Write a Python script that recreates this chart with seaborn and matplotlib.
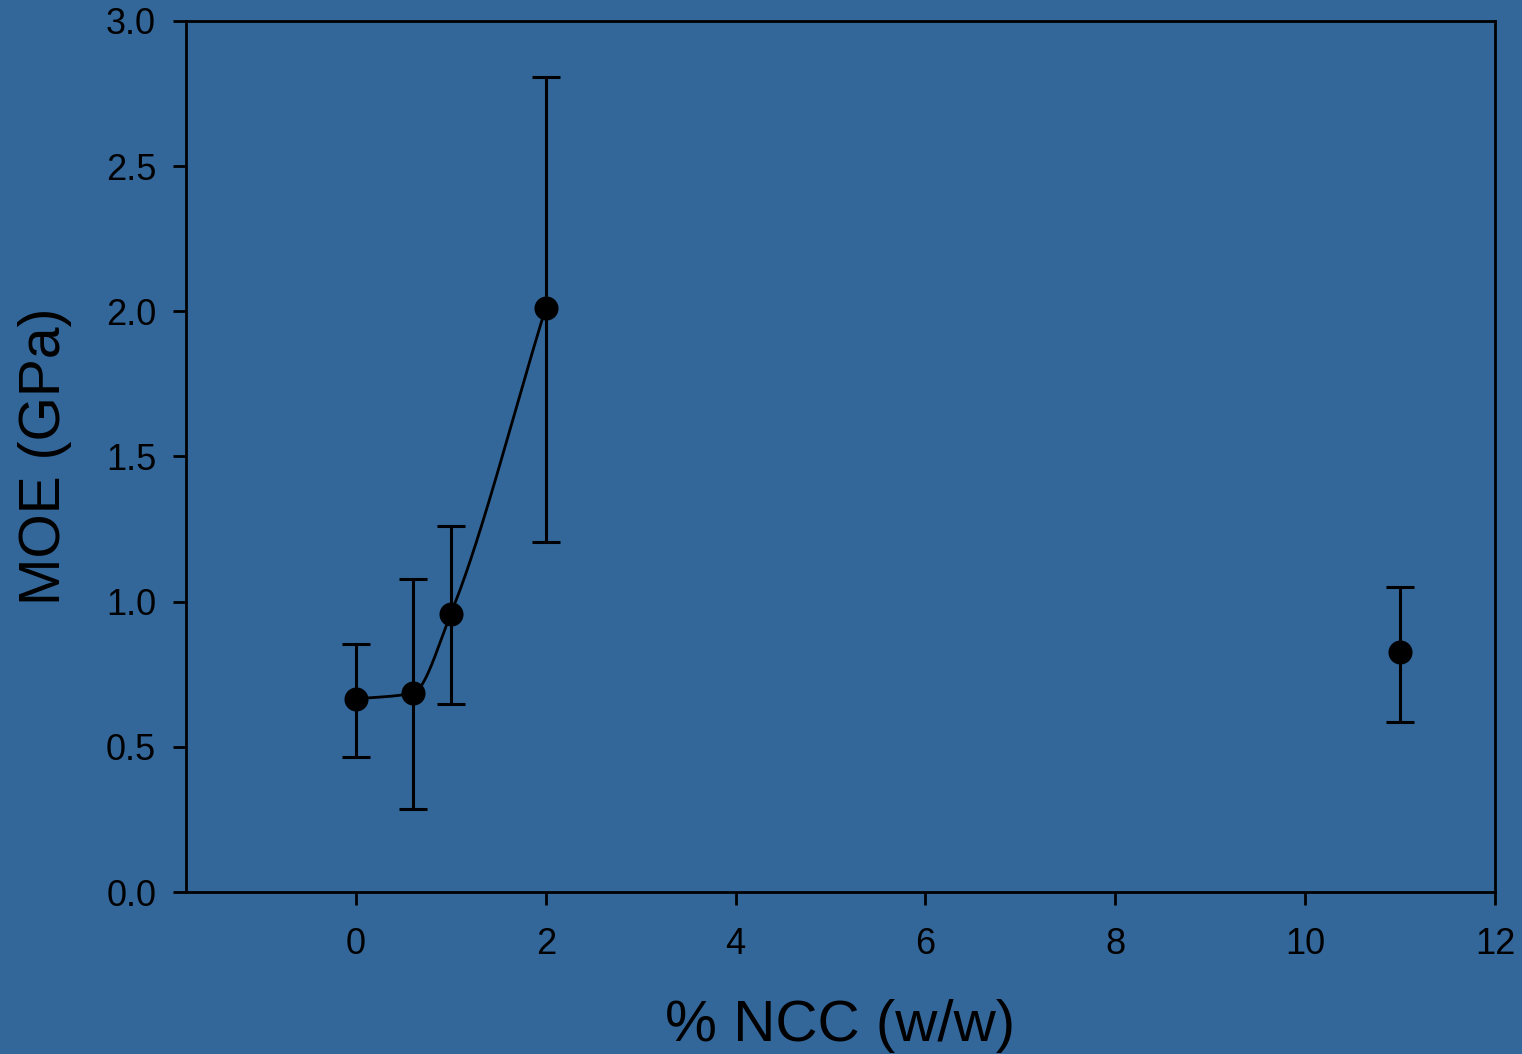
import numpy as np
import pandas as pd
import matplotlib
matplotlib.use("Agg")
import matplotlib.pyplot as plt
import seaborn as sns

# Data
ncc = [0.0, 0.6, 1.0, 2.0, 11.0]
moe = [0.665, 0.685, 0.958, 2.012, 0.827]
err_low = [0.465, 0.286, 0.648, 1.206, 0.586]
err_high = [0.854, 1.078, 1.261, 2.807, 1.051]
curve_n = 4  # smooth curve passes through the first four points

sns.set_theme(style="ticks")
plt.rcParams['font.family'] = ['Liberation Sans', 'DejaVu Sans']

BG = "#336699"
fig = plt.figure(figsize=(15.22, 10.54), dpi=100, facecolor=BG)
ax = fig.add_axes([0.1222, 0.1537, 0.8601, 0.8264])
ax.set_facecolor(BG)

df = pd.DataFrame({"x": ncc, "y": moe})


def pchip(x, y, xs):
    x = np.asarray(x, float); y = np.asarray(y, float)
    h = np.diff(x); d = np.diff(y) / h
    n = len(x); m = np.zeros(n)
    for k in range(1, n - 1):
        if d[k - 1] * d[k] > 0:
            w1 = 2 * h[k] + h[k - 1]; w2 = h[k] + 2 * h[k - 1]
            m[k] = (w1 + w2) / (w1 / d[k - 1] + w2 / d[k])
    m[0] = d[0]; m[-1] = d[-1]
    out = np.empty_like(xs)
    for i, xv in enumerate(xs):
        k = min(np.searchsorted(x, xv, side="right") - 1, n - 2)
        k = max(k, 0)
        t = (xv - x[k]) / h[k]
        h00 = 2 * t**3 - 3 * t**2 + 1; h10 = t**3 - 2 * t**2 + t
        h01 = -2 * t**3 + 3 * t**2; h11 = t**3 - t**2
        out[i] = h00 * y[k] + h10 * h[k] * m[k] + h01 * y[k + 1] + h11 * h[k] * m[k + 1]
    return out

xs = np.linspace(ncc[0], ncc[curve_n - 1], 300)
ys = pchip(ncc[:curve_n], moe[:curve_n], xs)
sns.lineplot(x=xs, y=ys, ax=ax, color="black", linewidth=2.0, sort=False)

yerr = np.vstack([np.array(moe) - np.array(err_low), np.array(err_high) - np.array(moe)])
ax.errorbar(ncc, moe, yerr=yerr, fmt="none", ecolor="black", elinewidth=2.2,
            capsize=10, capthick=2.2, zorder=3)
sns.scatterplot(data=df, x="x", y="y", ax=ax, color="black", s=300,
                edgecolor="black", linewidth=0, zorder=4)

ax.set_xlim(-1.79, 12)
ax.set_ylim(0, 3.0)
ax.set_xticks([0, 2, 4, 6, 8, 10, 12])
ax.set_yticks(np.arange(0, 3.01, 0.5))
ax.set_yticklabels([f"{v:.1f}" for v in np.arange(0, 3.01, 0.5)])

for s in ax.spines.values():
    s.set_visible(True)
    s.set_color("black")
    s.set_linewidth(2.0)

ax.tick_params(axis="both", direction="out", length=9.5, width=2.0, colors="black",
               labelsize=26, labelcolor="black")
ax.tick_params(axis="x", pad=16)
ax.tick_params(axis="y", pad=12)
ax.set_xlabel("% NCC (w/w)", fontsize=42, color="black", labelpad=26)
ax.set_ylabel("MOE (GPa)", fontsize=41, color="black", labelpad=24)
ax.grid(False)

fig.savefig("out.png", dpi=100, facecolor=BG)
